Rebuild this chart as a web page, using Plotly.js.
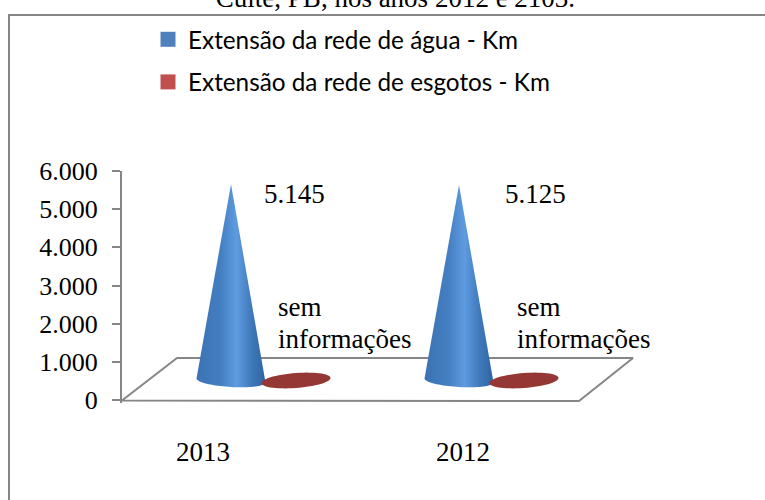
<!DOCTYPE html>
<html>
<head>
<meta charset="utf-8">
<script src="https://cdn.plot.ly/plotly-3.0.1.min.js"></script>
<style>html,body{margin:0;padding:0;background:#fff;overflow:hidden}#chart{width:765px;height:500px}</style>
</head>
<body>
<div id="chart"></div>
<script>
// ---- data ----
const categories = ['2013', '2012'];
const waterKm = [5145, 5125];
const sewerKm = [0, 0];
const waterName = 'Extensão da rede de água - Km';
const sewerName = 'Extensão da rede de esgotos - Km';
const noInfoWords = ['sem', 'informações'];
const titleText = 'Cuite, PB, nos anos 2012 e 2103.';
const yTicks = [0, 1000, 2000, 3000, 4000, 5000, 6000];

// ---- layout geometry (pixels of the plot box) ----
const plotL = 122, plotR = 636, plotT = 171, zeroPx = 400, plotB = 403;
const catPx = 228, cat0Px = 263.5;
const yMax = 6000;
const xUnit = px => (px - cat0Px) / catPx;
const xLen = px => px / catPx;
const yUnit = py => (zeroPx - py) / (zeroPx - plotT) * yMax;
const yLen = px => px / (zeroPx - plotT) * yMax;
const depthBase = yLen(19.5);     // markers stand in the middle of the 3D floor
const grey = '#868686';
const serif = '"Liberation Serif", "Times New Roman", serif';

// ---- pseudo-3D cone outline built from the value through the axes ----
function cone(cx, value, offset) {
  const rx = xLen(34.5), ry = yLen(6.5), tilt = yLen(2);
  const xs = [], ys = [];
  const base = depthBase;
  for (let i = 0; i <= 40; i++) {
    const t = Math.PI * i / 40;       // lower half from left to right
    xs.push(cx + offset - rx * Math.cos(t));
    ys.push(base - ry * Math.sin(t) + tilt * Math.cos(t));
  }
  xs.push(cx + offset); ys.push(base + value);
  xs.push(xs[0]); ys.push(ys[0]);
  return {x: xs, y: ys};
}
function disc(cx, value, offset) {
  const rx = xLen(34.5), ry = yLen(7.5), tilt = yLen(2.5);
  const xs = [], ys = [];
  for (let i = 0; i <= 60; i++) {
    const t = 2 * Math.PI * i / 60;
    xs.push(cx + offset + rx * Math.cos(t));
    ys.push(depthBase + value + ry * Math.sin(t) + tilt * Math.cos(t));
  }
  return {x: xs, y: ys};
}

const traces = [];
// floor of the 3D box
traces.push({
  type: 'scatter', mode: 'lines', hoverinfo: 'skip', showlegend: false,
  x: [xUnit(122), xUnit(177), xUnit(633), xUnit(579), xUnit(122)],
  y: [yUnit(400.5), yUnit(358), yUnit(358), yUnit(401), yUnit(400.5)],
  line: {color: grey, width: 2}, cliponaxis: false
});
// cones and discs
categories.forEach((c, i) => {
  const k = cone(i, waterKm[i], -0.1425);
  traces.push({
    type: 'scatter', mode: 'lines', fill: 'toself', hoverinfo: 'skip', showlegend: false,
    x: k.x, y: k.y, line: {width: 0, color: 'rgba(0,0,0,0)', simplify: false},
    fillgradient: {type: 'horizontal', colorscale: [
      [0, '#3b73b2'], [0.35, '#447fc2'], [0.58, '#5f9be0'], [0.8, '#3f79bb'], [1, '#2e639f']
    ]},
    cliponaxis: false
  });
  const d = disc(i, sewerKm[i], 0.1425);
  traces.push({
    type: 'scatter', mode: 'lines', fill: 'toself', hoverinfo: 'skip', showlegend: false,
    x: d.x, y: d.y, line: {width: 0, color: 'rgba(0,0,0,0)', simplify: false},
    fillcolor: '#953735', cliponaxis: false
  });
});
// legend entries
traces.push({type: 'scatter', mode: 'markers', name: waterName, legendgroup: 'a',
  x: [null], y: [null], marker: {symbol: 'square', size: 15, color: '#4f81bd'}});
traces.push({type: 'scatter', mode: 'markers', name: sewerName, legendgroup: 'b',
  x: [null], y: [null], marker: {symbol: 'square', size: 15, color: '#c0504d'}});

const fmt = v => Math.floor(v / 1000) + '.' + String(v % 1000).padStart(3, '0');
const annFont = {family: serif, size: 27, color: '#000'};
const annotations = [];
const valueLabelPx = [294, 535];
const noInfoPx = [278, 517];
categories.forEach((c, i) => {
  annotations.push({xref: 'x', yref: 'y', x: xUnit(valueLabelPx[i]), y: yUnit(194), text: fmt(waterKm[i]),
    showarrow: false, font: annFont, xanchor: 'center', yanchor: 'middle'});
  noInfoWords.forEach((w, j) => {
    annotations.push({xref: 'x', yref: 'y', x: xUnit(noInfoPx[i]), y: yUnit(j ? 339 : 307), text: w,
      showarrow: false, font: annFont, xanchor: 'left', yanchor: 'middle', xshift: -2});
  });
});

const layout = {
  width: 765, height: 500,
  margin: {l: plotL, r: 765 - plotR, t: plotT, b: 500 - plotB, pad: 0, autoexpand: false},
  paper_bgcolor: '#fff', plot_bgcolor: 'rgba(0,0,0,0)',
  separators: ',.',
  title: {text: titleText, font: {family: serif, size: 27, color: '#000'},
    x: 395.5 / 765, xanchor: 'center', xref: 'container', yref: 'container', y: 0.986, yanchor: 'bottom'},
  xaxis: {
    range: [xUnit(plotL), xUnit(plotR)], showline: false, showgrid: false, zeroline: false,
    tickmode: 'array', tickvals: [xUnit(203), xUnit(463)], ticktext: categories, ticks: '',
    ticklabelstandoff: 30, tickfont: {family: serif, size: 27, color: '#000'}, fixedrange: true
  },
  yaxis: {
    range: [yUnit(plotB), yMax], showline: true, linecolor: grey, linewidth: 2, showgrid: false, zeroline: false,
    tickmode: 'array', tickvals: yTicks, tickformat: ',d', ticks: 'outside', ticklen: 8, tickcolor: grey, tickwidth: 2,
    ticklabelstandoff: 9, tickfont: {family: serif, size: 26, color: '#000'}, fixedrange: true
  },
  showlegend: true,
  legend: {
    xref: 'container', yref: 'container', x: 148 / 765, y: 1 - 17 / 500, xanchor: 'left', yanchor: 'top',
    font: {family: 'Lato, sans-serif', size: 24.3, color: '#000'}, bgcolor: 'rgba(0,0,0,0)',
    traceorder: 'grouped', tracegroupgap: 8, itemclick: false, itemdoubleclick: false
  },
  shapes: [{
    type: 'rect', xref: 'paper', yref: 'paper', layer: 'below',
    x0: (9 - plotL) / (plotR - plotL), x1: (800 - plotL) / (plotR - plotL),
    y0: (plotB - 540) / (plotB - plotT), y1: (plotB - 15) / (plotB - plotT),
    line: {color: grey, width: 2}, fillcolor: 'rgba(0,0,0,0)'
  }],
  annotations: annotations
};
Plotly.newPlot('chart', traces, layout, {displayModeBar: false, staticPlot: true});
</script>
</body>
</html>
